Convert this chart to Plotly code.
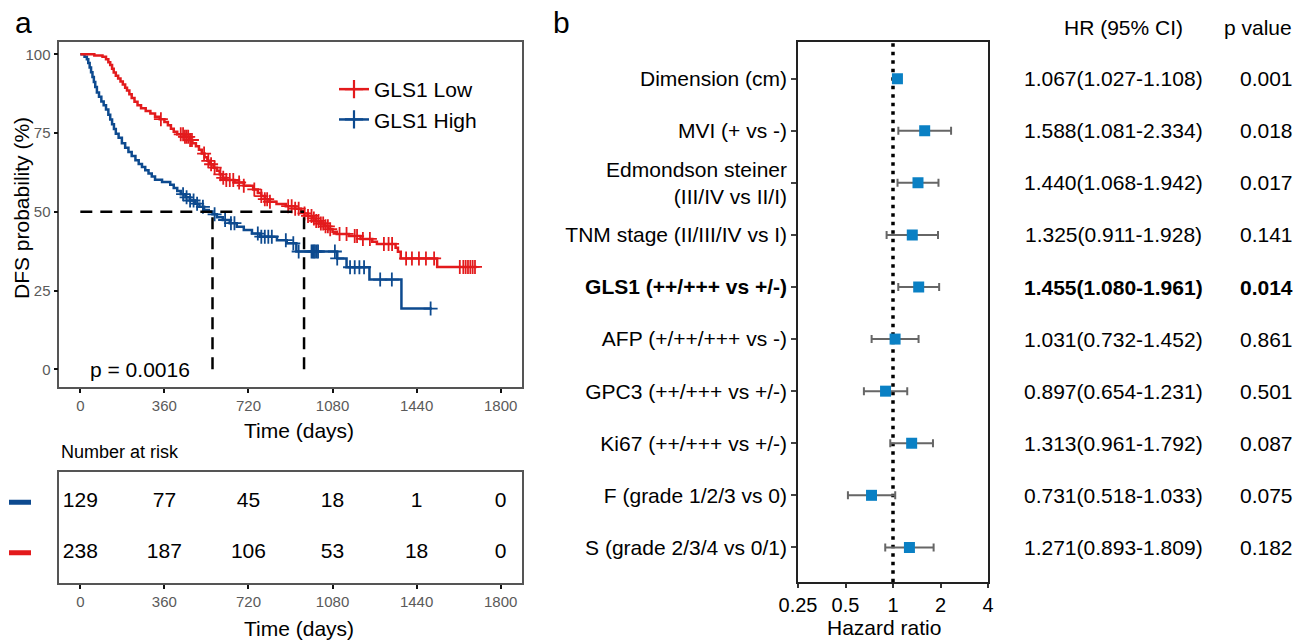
import numpy as np
import plotly.graph_objects as go

W, H = 1296, 640
FONT = "Liberation Sans, Arial, sans-serif"
RED = "#E31A1C"
BLUE = "#0D4A8F"
SQ = "#0A80C4"


def px(x):
    return x / W


def py(y):
    return 1 - y / H


# ---------------- Panel a : Kaplan-Meier data ----------------
low_time = [0, 60, 95, 110, 120, 128, 136, 143, 152, 162,
            172, 182, 192, 200, 210, 220, 232, 245, 260, 280,
            300, 320, 340, 360, 375, 388, 400, 415, 445, 465,
            480, 495, 508, 520, 532, 544, 556, 570, 585, 597,
            610, 625, 660, 700, 740, 760, 775, 790, 810, 840,
            880, 920, 945, 958, 975, 992, 1010, 1028, 1045, 1062,
            1080, 1098, 1150, 1200, 1250, 1270, 1350, 1360, 1372, 1528]
low_surv = [100, 99.6, 99.2, 98.4, 97.5, 96.6, 95.4, 94.2, 93.2, 92.3,
            91.4, 90.4, 89.4, 88.5, 87.3, 86.1, 84.9, 83.8, 82.9, 82.0,
            81.2, 80.2, 79.4, 78.5, 77.5, 76.4, 75.4, 74.6, 73.8, 72.8,
            71.8, 70.8, 69.7, 68.5, 67.3, 66.2, 65.1, 64.0, 63.0, 61.9,
            60.8, 60.1, 59.3, 58.3, 57.1, 56.0, 55.0, 54.0, 53.2, 52.5,
            51.8, 51.0, 50.3, 49.5, 48.7, 47.9, 47.1, 46.3, 45.4, 44.5,
            43.7, 43.0, 42.3, 41.4, 40.5, 39.8, 38.6, 37.3, 35.2, 32.5]
low_end = 1697
low_censor = [345, 430, 440, 448, 455, 462, 470, 478, 530, 548,
              560, 575, 600, 612, 625, 640, 655, 680, 700, 745,
              775, 790, 800, 812, 890, 905, 920, 935, 960, 975,
              990, 1000, 1010, 1020, 1030, 1040, 1050, 1060, 1070, 1110,
              1140, 1175, 1185, 1210, 1240, 1300, 1320, 1335, 1395, 1420,
              1450, 1480, 1515, 1625, 1640, 1650, 1660, 1670, 1680, 1690]

high_time = [0, 18, 28, 34, 40, 46, 52, 58, 64, 71,
             80, 90, 100, 110, 120, 128, 136, 144, 152, 164,
             178, 192, 206, 220, 236, 250, 264, 278, 292, 306,
             320, 350, 385, 400, 415, 430, 450, 470, 490, 510,
             530, 550, 566, 585, 610, 640, 670, 700, 735, 770,
             842, 884, 925, 1100, 1140, 1238, 1375]
high_surv = [100, 99.2, 98.4, 97.2, 95.8, 94.3, 92.8, 91.2, 89.6, 87.9,
             86.5, 85.0, 83.8, 82.5, 80.8, 79.3, 77.8, 76.3, 74.8, 73.5,
             71.8, 70.3, 69.0, 67.7, 66.4, 65.2, 64.2, 63.2, 62.2, 61.2,
             60.2, 59.5, 58.6, 57.6, 56.6, 55.6, 54.6, 53.6, 52.6, 51.6,
             50.6, 50.1, 49.2, 48.3, 47.4, 46.4, 45.3, 44.2, 43.1, 42.1,
             41.0, 40.0, 37.4, 35.2, 32.4, 28.5, 19.3]
high_end = 1505
high_censor = [440, 455, 470, 485, 500, 525, 575, 620, 645, 660,
               760, 775, 790, 805, 820, 880, 912, 935, 990, 995,
               1000, 1005, 1012, 1018, 1090, 1100, 1155, 1175, 1195, 1215,
               1284, 1334, 1500]

km_xticks = [0, 360, 720, 1080, 1440, 1800]
km_yticks = [0, 25, 50, 75, 100]
p_text = "p = 0.0016"

risk_times = [0, 360, 720, 1080, 1440, 1800]
risk_high = [129, 77, 45, 18, 1, 0]
risk_low = [238, 187, 106, 53, 18, 0]

# ---------------- Panel b : forest data ----------------
variables = ["Dimension (cm)", "MVI (+ vs -)",
             "Edmondson steiner<br>(III/IV vs II/I)",
             "TNM stage (II/III/IV vs I)", "GLS1 (++/+++ vs +/-)",
             "AFP (+/++/+++ vs -)", "GPC3 (++/+++ vs +/-)",
             "Ki67 (++/+++ vs +/-)", "F (grade 1/2/3 vs 0)",
             "S (grade 2/3/4 vs 0/1)"]
hr = [1.067, 1.588, 1.440, 1.325, 1.455, 1.031, 0.897, 1.313, 0.731, 1.271]
ci_low = [1.027, 1.081, 1.068, 0.911, 1.080, 0.732, 0.654, 0.961, 0.518, 0.893]
ci_high = [1.108, 2.334, 1.942, 1.928, 1.961, 1.452, 1.231, 1.792, 1.033, 1.809]
p_values = ["0.001", "0.018", "0.017", "0.141", "0.014",
            "0.861", "0.501", "0.087", "0.075", "0.182"]
bold_rows = [4]
hr_ticks = [0.25, 0.5, 1, 2, 4]


def step_value(times, surv, t):
    i = np.searchsorted(np.asarray(times), t, side="right") - 1
    return np.asarray(surv)[i]


def median_time(times, surv):
    for t, s in zip(times, surv):
        if s <= 50:
            return t
    return None


fig = go.Figure()

for name, times, surv, end, cens, col, grp in [
    ("GLS1 High", high_time, high_surv, high_end, high_censor, BLUE, "high"),
    ("GLS1 Low", low_time, low_surv, low_end, low_censor, RED, "low"),
]:
    xs = list(times) + [end]
    ys = list(surv) + [surv[-1]]
    fig.add_trace(go.Scatter(x=xs, y=ys, mode="lines", line=dict(color=col, width=2.5, shape="hv"),
                             showlegend=False, hoverinfo="skip", xaxis="x", yaxis="y"))
    cy = [step_value(times, surv, t) for t in cens]
    fig.add_trace(go.Scatter(x=cens, y=cy, mode="markers",
                             marker=dict(symbol="cross-thin", size=10, line=dict(width=1.8, color=col), color=col),
                             showlegend=False, hoverinfo="skip", xaxis="x", yaxis="y"))

# legend entries
for name, col, grp in [("GLS1 Low", RED, "low"), ("GLS1 High", BLUE, "high")]:
    fig.add_trace(go.Scatter(x=[None], y=[None], mode="lines+markers", name=name, legendgroup=grp,
                             line=dict(color=col, width=2.5),
                             marker=dict(symbol="cross-thin", size=13, line=dict(width=2.2, color=col), color=col),
                             xaxis="x", yaxis="y"))

med_low = median_time(low_time, low_surv)
med_high = median_time(high_time, high_surv)
shapes = []
dash_line = dict(color="black", width=2.5, dash="12px,8px")
shapes.append(dict(type="line", xref="x", yref="y", x0=0, x1=med_low, y0=50, y1=50, line=dash_line))
for m in (med_high, med_low):
    shapes.append(dict(type="line", xref="x", yref="y", x0=m, x1=m, y0=0, y1=50, line=dash_line))

# risk table
for vals, yrow, col in [(risk_high, 2, BLUE), (risk_low, 1, RED)]:
    fig.add_trace(go.Scatter(x=risk_times, y=[yrow] * len(vals), mode="text",
                             text=[str(v) for v in vals], textposition="middle center",
                             textfont=dict(size=21, color="black", family=FONT),
                             showlegend=False, hoverinfo="skip", xaxis="x2", yaxis="y2", cliponaxis=False))
    shapes.append(dict(type="line", xref="paper", yref="y2", x0=px(9), x1=px(31), y0=yrow, y1=yrow,
                       line=dict(color=col, width=5)))

# forest plot
n = len(variables)
ypos = [n - i for i in range(n)]
err_plus = [h - m for h, m in zip(ci_high, hr)]
err_minus = [m - l for m, l in zip(hr, ci_low)]
fig.add_trace(go.Scatter(x=hr, y=ypos, mode="markers",
                         marker=dict(symbol="square", size=11, color=SQ),
                         error_x=dict(type="data", symmetric=False, array=err_plus, arrayminus=err_minus,
                                      color="#666666", thickness=2, width=4),
                         showlegend=False, hoverinfo="skip", xaxis="x3", yaxis="y3"))
shapes.append(dict(type="line", xref="x3", yref="y3 domain", x0=1, x1=1, y0=0, y1=1,
                   line=dict(color="black", width=3.5, dash="3.5px,5px"), layer="below"))

ticktext = []
for i, v in enumerate(variables):
    ticktext.append(f"<b>{v}</b>" if i in bold_rows else v)

annotations = []
# HR and p columns
for i in range(n):
    s = f"{hr[i]:.3f}({ci_low[i]:.3f}-{ci_high[i]:.3f})"
    p = p_values[i]
    if i in bold_rows:
        s, p = f"<b>{s}</b>", f"<b>{p}</b>"
    annotations.append(dict(x=px(1113.5), y=ypos[i], xref="paper", yref="y3", text=s, showarrow=False,
                            font=dict(size=21, family=FONT, color="black"), xanchor="center", yanchor="middle"))
    annotations.append(dict(x=px(1266), y=ypos[i], xref="paper", yref="y3", text=p, showarrow=False,
                            font=dict(size=21, family=FONT, color="black"), xanchor="center", yanchor="middle"))

annotations += [
    dict(x=px(1123), y=py(27), xref="paper", yref="paper", text="HR (95% CI)", showarrow=False,
         font=dict(size=21, family=FONT, color="black"), xanchor="center", yanchor="middle"),
    dict(x=px(1257.5), y=py(27), xref="paper", yref="paper", text="p value", showarrow=False,
         font=dict(size=21, family=FONT, color="black"), xanchor="center", yanchor="middle"),
    dict(x=px(884), y=py(627), xref="paper", yref="paper", text="Hazard ratio", showarrow=False,
         font=dict(size=21, family=FONT, color="black"), xanchor="center", yanchor="middle"),
    dict(x=px(23), y=py(22), xref="paper", yref="paper", text="a", showarrow=False,
         font=dict(size=30, family=FONT, color="black"), xanchor="center", yanchor="middle"),
    dict(x=px(561), y=py(22), xref="paper", yref="paper", text="b", showarrow=False,
         font=dict(size=30, family=FONT, color="black"), xanchor="center", yanchor="middle"),
    dict(x=px(21.5), y=py(208.5), xref="paper", yref="paper", text="DFS probability (%)", textangle=-90,
         showarrow=False, font=dict(size=21, family=FONT, color="black"), xanchor="center", yanchor="middle"),
    dict(x=px(299), y=py(430), xref="paper", yref="paper", text="Time (days)", showarrow=False,
         font=dict(size=21, family=FONT, color="black"), xanchor="center", yanchor="middle"),
    dict(x=px(299), y=py(628), xref="paper", yref="paper", text="Time (days)", showarrow=False,
         font=dict(size=21, family=FONT, color="black"), xanchor="center", yanchor="middle"),
    dict(x=px(59), y=py(452), xref="paper", yref="paper", text="Number at risk", showarrow=False,
         font=dict(size=18, family=FONT, color="black"), xanchor="left", yanchor="middle"),
    dict(x=px(140), y=0, xref="paper", yref="y", text=p_text, showarrow=False,
         font=dict(size=21, family=FONT, color="black"), xanchor="center", yanchor="middle"),
]

BOX = "#555555"
common_axis = dict(showgrid=False, zeroline=False, showline=True, mirror=True, linecolor=BOX, linewidth=1.5)

fig.update_layout(
    width=W, height=H, autosize=False,
    margin=dict(l=0, r=0, t=0, b=0),
    paper_bgcolor="white", plot_bgcolor="white",
    font=dict(family=FONT, color="black"),
    template="none",
    showlegend=True,
    legend=dict(x=px(334), y=py(69), xanchor="left", yanchor="top", font=dict(size=21, family=FONT),
                bgcolor="rgba(0,0,0,0)", tracegroupgap=5, itemwidth=30, traceorder="normal"),
    xaxis=dict(domain=[px(59.3), px(521.7)], range=[-90, 1890], anchor="y",
               tickvals=km_xticks, ticktext=[str(v) for v in km_xticks],
               ticks="outside", ticklen=4, tickwidth=2, tickcolor="#111",
               tickfont=dict(size=15, color="#5a5a5a"), **common_axis),
    yaxis=dict(domain=[py(387.3), py(41.7)], range=[-5.7, 104.0], anchor="x",
               tickvals=km_yticks, ticktext=[str(v) for v in km_yticks],
               ticks="outside", ticklen=4, tickwidth=2, tickcolor="#111",
               tickfont=dict(size=15, color="#5a5a5a"), **common_axis),
    xaxis2=dict(domain=[px(59.3), px(521.7)], range=[-90, 1890], anchor="y2",
                tickvals=risk_times, ticktext=[str(v) for v in risk_times],
                ticks="outside", ticklen=4, tickwidth=2, tickcolor="#111",
                tickfont=dict(size=15, color="#5a5a5a"), **common_axis),
    yaxis2=dict(domain=[py(583.3), py(471.7)], range=[0.4, 2.6], anchor="x2",
                showticklabels=False, ticks="", **common_axis),
    xaxis3=dict(domain=[px(798), px(988)], type="log", range=[np.log10(0.25), np.log10(4)], anchor="y3",
                tickvals=hr_ticks, ticktext=[str(v) for v in hr_ticks],
                ticks="outside", ticklen=4, tickwidth=1.5, tickcolor="#333",
                tickfont=dict(size=20, color="black"), showgrid=False, zeroline=False, showline=True,
                mirror=True, linecolor="#222", linewidth=1.5),
    yaxis3=dict(domain=[py(582.3), py(41.7)], range=[0.33, 10.71], anchor="x3",
                tickvals=ypos, ticktext=ticktext,
                ticks="outside", ticklen=5, tickwidth=1.5, tickcolor="#444",
                tickfont=dict(size=21, color="black", family=FONT), showgrid=False, zeroline=False,
                showline=True, mirror=True, linecolor="#222", linewidth=1.5),
    shapes=shapes,
    annotations=annotations,
)

fig.write_html("out.html", config={"displayModeBar": False},
               post_script="document.body.style.margin='0';document.body.style.overflow='hidden';")
